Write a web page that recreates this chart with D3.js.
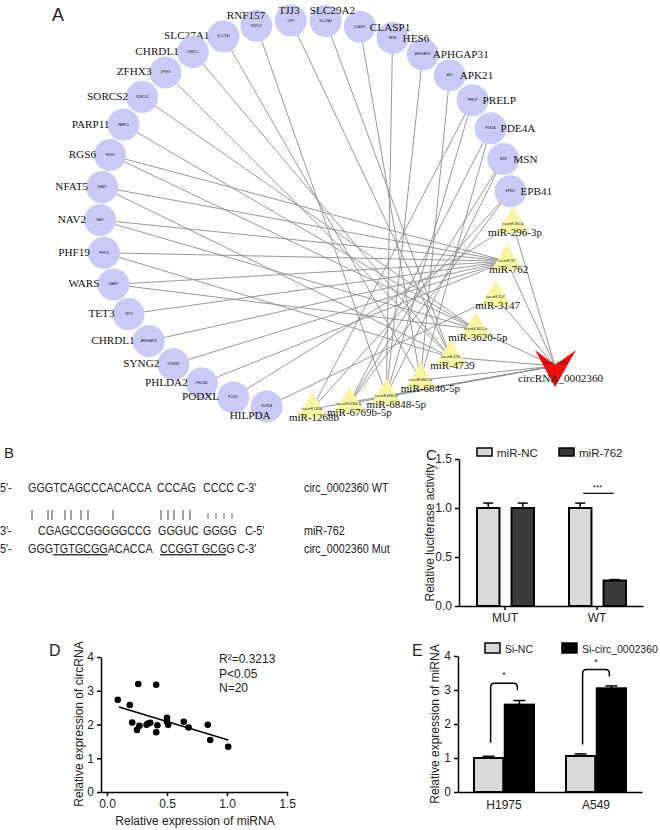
<!DOCTYPE html>
<html>
<head>
<meta charset="utf-8">
<script src="https://cdn.jsdelivr.net/npm/d3@7"></script>
<style>
  body { margin: 0; background: #fff; }
  text { font-family: "Liberation Sans", Arial, sans-serif; fill: #222; }
  .serif { font-family: "Liberation Serif", "Times New Roman", serif; fill: #111; }
  .axis path, .axis line { stroke: #000; stroke-width: 1.5; }
  .axis text { font-size: 12px; fill: #222; font-family: "Liberation Sans", Arial, sans-serif; }
</style>
</head>
<body>
<svg width="660" height="830"></svg>
<script>
// ---------- data ----------
// A: network, genes round the ring (label / tiny id), miRNAs, target links
const genes   = ["EPB41","MSN","PDE4A","PRELP","APK21","APHGAP31","HES6","CLASP1","SLC29A2","TJJ3","RNF157",
                 "SLC27A1","CHRDL1","ZFHX3","SORCS2","PARP11","RGS6","NFAT5","NAV2","PHF19","WARS","TET3",
                 "CHRDL1","SYNG2","PHLDA2","PODXL","HILPDA"];
const geneIds = ["EPB41","MSN","PDE4A","PRELP","AK2","ARHGAP31","HES6","CLASP1","SLC29A2","TJP3","RNF157",
                 "SLC27A1","CHRDL1","ZFHX3","SORCS2","PARP11","RGS6","NFAT5","NAV2","PHF19","WARS","TET3",
                 "ARHGAP40","SYNGR2","PHLDA2","PODXL","HILPDA"];
const mirs    = ["miR-296-3p","miR-762","miR-3147","miR-3620-5p","miR-4739","miR-6846-5p","miR-6848-5p","miR-6769b-5p","miR-1268b"];
const circName = "circRNA_0002360";
const links = [
  ["EPB41","miR-1268b"],["EPB41","miR-6769b-5p"],["MSN","miR-6769b-5p"],["MSN","miR-6848-5p"],
  ["PDE4A","miR-6769b-5p"],["PDE4A","miR-6846-5p"],["PRELP","miR-1268b"],["PRELP","miR-6848-5p"],
  ["AK2","miR-6846-5p"],["ARHGAP31","miR-6848-5p"],["HES6","miR-6848-5p"],["CLASP1","miR-6846-5p"],
  ["SLC29A2","miR-4739"],["TJP3","miR-4739"],["RNF157","miR-6848-5p"],["SLC27A1","miR-6846-5p"],
  ["CHRDL1","miR-4739"],["ZFHX3","miR-4739"],["SORCS2","miR-3620-5p"],["PARP11","miR-3620-5p"],
  ["RGS6","miR-3620-5p"],["RGS6","miR-762"],["NFAT5","miR-762"],["NFAT5","miR-4739"],
  ["NAV2","miR-762"],["NAV2","miR-3620-5p"],["PHF19","miR-762"],["PHF19","miR-4739"],
  ["WARS","miR-762"],["WARS","miR-3620-5p"],["TET3","miR-762"],["ARHGAP40","miR-762"],
  ["SYNGR2","miR-762"],["PHLDA2","miR-762"],["PODXL","miR-296-3p"],["HILPDA","miR-3147"]
];

// B: binding sequences
const seqWT  = ["5'-", "GGGTCAGCCCACACCA", "CCCAG", "CCCC", "C-3'"];
const seqMir = ["3'-", "CGAGCCGGGGGCCG", "GGGUC", "GGGG", "C-5'"];
const seqRowNames = ["circ_0002360 WT", "miR-762", "circ_0002360 Mut"];

// C: luciferase
const lucGroups = ["MUT", "WT"];
const lucSeries = ["miR-NC", "miR-762"];
const lucMean = [[1.0, 1.0], [1.0, 0.26]];
const lucErr  = [[0.05, 0.05], [0.05, 0.01]];

// D: correlation
const corrX = [0.09,0.19,0.26,0.41,0.21,0.25,0.27,0.33,0.36,0.42,0.41,0.50,0.50,0.51,0.64,0.68,0.84,0.86,1.01,0.34];
const corrY = [2.73,2.58,3.20,3.18,2.06,1.84,1.96,1.99,2.05,1.98,1.77,2.20,2.08,1.99,2.08,1.91,1.99,1.54,1.34,2.03];
const fitX = [0.1, 1.01];
const fitY = [2.52, 1.54];
const corrStats = ["R\u00b2=0.3213", "P<0.05", "N=20"];

// E: miRNA expression
const cells = ["H1975", "A549"];
const siSeries = ["Si-NC", "Si-circ_0002360"];
const siMean = [[1.0, 2.57], [1.06, 3.05]];
const siErr  = [[0.05, 0.12], [0.06, 0.07]];

// ---------- drawing ----------
const svg = d3.select("svg");

// ===== A =====
const gA = svg.append("g");
const ring = { cx: 306, cy: 215, rx: 206, ry: 195 };
const angle = d3.scaleLinear().domain([0, genes.length - 1]).range([7, 259]);
const geneNodes = genes.map((g, i) => {
  const a = angle(i) * Math.PI / 180;
  return { id: geneIds[i], label: g, i: i,
           x: ring.cx + ring.rx * Math.cos(a), y: ring.cy - ring.ry * Math.sin(a) };
});
// miRNAs evenly spaced on a guide curve
const guide = gA.append("path").attr("fill", "none")
  .attr("d", d3.line().curve(d3.curveCatmullRom)([[513,224],[498,292],[456,352],[397,392],[312,409]]));
const gl = guide.node().getTotalLength();
const mirNodes = mirs.map((m, i) => {
  const p = guide.node().getPointAtLength(gl * i / (mirs.length - 1));
  return { id: m, i: i, x: p.x, y: p.y };
});
guide.remove();
const circNode = { id: circName, x: 555, y: 366 };

const byId = {};
geneNodes.forEach(n => byId[n.id] = n);
mirNodes.forEach(n => byId[n.id] = n);

const edgeList = links.map(l => [byId[l[0]], byId[l[1]]])
  .concat(mirNodes.map(m => [m, circNode]));

gA.append("g").selectAll("line").data(edgeList).enter().append("line")
  .attr("x1", d => d[0].x).attr("y1", d => d[0].y)
  .attr("x2", d => d[1].x).attr("y2", d => d[1].y)
  .attr("stroke", "#8c8c8c").attr("stroke-width", 0.9);

// gene circles
const gn = gA.append("g").selectAll("g").data(geneNodes).enter().append("g");
gn.append("circle").attr("cx", d => d.x).attr("cy", d => d.y).attr("r", 16)
  .attr("fill", "#cacaf6");
gn.append("text").attr("x", d => d.x).attr("y", d => d.y + 1).attr("text-anchor", "middle")
  .attr("font-size", 3).text(d => d.id);
gn.append("text").attr("class", "serif").attr("font-size", 11.2)
  .attr("text-anchor", d => d.i <= 7 ? "start" : d.i <= 10 ? "middle" : "end")
  .attr("x", d => d.i <= 7 ? d.x + 10 : d.i <= 10 ? d.x + 0.25 * (d.x - ring.cx) + 2 : d.i === 26 ? d.x + 4 : d.x - 14)
  .attr("y", d => d.i <= 7 ? d.y + 4 : d.i <= 10 ? d.y - 7 : d.i === 26 ? d.y + 13 : d.y + 3)
  .text(d => d.label);

// miRNA triangles
const tri = d3.symbol().type(d3.symbolTriangle).size(400);
const mn = gA.append("g").selectAll("g").data(mirNodes).enter().append("g");
mn.append("path").attr("d", tri).attr("transform", d => `translate(${d.x},${d.y})`)
  .attr("fill", "#f8f6a2");
mn.append("text").attr("x", d => d.x).attr("y", d => d.y + 1).attr("text-anchor", "middle")
  .attr("font-size", 3).text(d => "hsa-" + d.id);
mn.append("text").attr("class", "serif").attr("font-size", 11).attr("text-anchor", "middle")
  .attr("x", d => d.x + (d.i >= 5 && d.i <= 7 ? 10 : 2)).attr("y", d => d.y + 12).text(d => d.id);

// circRNA V
gA.append("path")
  .attr("d", d3.line()([[-20,-16],[0,-1],[21,-16],[0,21]].map(p => [circNode.x + p[0], circNode.y + p[1]])) + "Z")
  .attr("fill", "#f20d0d");
gA.append("text").attr("x", circNode.x).attr("y", circNode.y - 2).attr("text-anchor", "middle")
  .attr("font-size", 3).text("hsa_circ_0002360");
gA.append("text").attr("class", "serif").attr("font-size", 11.2)
  .attr("x", circNode.x - 37).attr("y", circNode.y + 16).text(circName);

svg.append("text").attr("x", 52).attr("y", 21).attr("font-size", 18).text("A");

// ===== B =====
svg.append("text").attr("x", 4).attr("y", 458).attr("font-size", 15).text("B");
const sx = 0.83; // the original type is set narrow
const gB = svg.append("g").attr("transform", `scale(${sx},1)`).attr("font-size", 13);
const segX = [0, 28, 157, 203, 237];
const segXm = [0, 38, 158, 203, 245];
gB.append("text").attr("y", 492).selectAll("tspan").data(seqWT).enter().append("tspan")
  .attr("x", (d, i) => segX[i] / sx).text(d => d);
gB.append("text").attr("y", 535).selectAll("tspan").data(seqMir).enter().append("tspan")
  .attr("x", (d, i) => segXm[i] / sx).text(d => d);
const mutLine = gB.append("text").attr("y", 553);
mutLine.append("tspan").attr("x", 0).text("5'-");
mutLine.append("tspan").attr("x", 28 / sx).text("GGG");
mutLine.append("tspan").style("text-decoration", "underline").text("TGTGCGG");
mutLine.append("tspan").text("ACACCA");
mutLine.append("tspan").attr("x", 160 / sx).style("text-decoration", "underline").text("CCGGT GCG");
mutLine.append("tspan").text("G");
mutLine.append("tspan").attr("x", 237 / sx).text("C-3'");
// base-pairing ticks
const pairX = [32, 48, 52, 65, 71, 81, 88, 113, 161, 168, 174, 183, 190];
const wobX = [208, 216, 224, 232];
gB.selectAll("line.p").data(pairX).enter().append("line")
  .attr("x1", d => d / sx).attr("x2", d => d / sx).attr("y1", 510).attr("y2", 520)
  .attr("stroke", "#333").attr("stroke-width", 1);
gB.selectAll("line.w").data(wobX).enter().append("line")
  .attr("x1", d => d / sx).attr("x2", d => d / sx).attr("y1", 513).attr("y2", 519)
  .attr("stroke", "#555").attr("stroke-width", 1);
gB.selectAll("text.rn").data(seqRowNames).enter().append("text")
  .attr("x", 304 / sx).attr("y", (d, i) => [492, 535, 553][i]).text(d => d);

// ===== C =====
const yC = d3.scaleLinear().domain([0, 1.5]).range([606, 459]);
const xC = d3.scaleBand().domain(lucGroups).range([459, 643]);
const xC1 = d3.scaleBand().domain(lucSeries).range([18, 75]).paddingInner(0.35);
const fillC = ["#d9d9d9", "#3a3a3a"];
const gC = svg.append("g");
lucGroups.forEach((g, gi) => {
  lucSeries.forEach((s, si) => {
    const x = xC(g) + xC1(s), w = xC1.bandwidth(), v = lucMean[gi][si], e = lucErr[gi][si];
    const cxm = x + w / 2;
    gC.append("line").attr("x1", cxm).attr("x2", cxm).attr("y1", yC(v)).attr("y2", yC(v + e))
      .attr("stroke", "#000").attr("stroke-width", 1.5);
    gC.append("line").attr("x1", cxm - 5).attr("x2", cxm + 5).attr("y1", yC(v + e)).attr("y2", yC(v + e))
      .attr("stroke", "#000").attr("stroke-width", 1.5);
    gC.append("rect").attr("x", x).attr("y", yC(v)).attr("width", w).attr("height", yC(0) - yC(v))
      .attr("fill", fillC[si]).attr("stroke", "#000").attr("stroke-width", 2);
  });
});
gC.append("g").attr("class", "axis").attr("transform", "translate(459,0)")
  .call(d3.axisLeft(yC).tickValues([0, 0.5, 1, 1.5]).tickFormat(d3.format(".1f")).tickSize(4).tickSizeOuter(0));
gC.append("g").attr("class", "axis").attr("transform", "translate(0,606)")
  .call(d3.axisBottom(xC).tickSize(4).tickSizeOuter(0));
// significance
const wtNC = xC("WT") + xC1("miR-NC") + xC1.bandwidth() / 2;
const wt762 = xC("WT") + xC1("miR-762") + xC1.bandwidth() / 2;
gC.append("line").attr("x1", wtNC + 3).attr("x2", wt762 - 1).attr("y1", yC(1.15)).attr("y2", yC(1.15))
  .attr("stroke", "#000").attr("stroke-width", 1.2);
gC.append("text").attr("x", (wtNC + wt762) / 2).attr("y", yC(1.15) - 3).attr("text-anchor", "middle")
  .attr("font-size", 8).text("***");
gC.append("text").attr("transform", `translate(434,${(yC(0) + yC(1.5)) / 2}) rotate(-90)`)
  .attr("text-anchor", "middle").attr("font-size", 12).text("Relative luciferase activity");
// legend
const legC = gC.selectAll("g.leg").data(lucSeries).enter().append("g")
  .attr("transform", (d, i) => `translate(${[477, 559][i]},448)`);
legC.append("rect").attr("width", 15).attr("height", 8).attr("fill", (d, i) => fillC[i])
  .attr("stroke", "#000").attr("stroke-width", 1.5);
legC.append("text").attr("x", 20).attr("y", 8.5).attr("font-size", 11.5).text(d => d);
svg.append("text").attr("x", 426).attr("y", 460).attr("font-size", 15).text("C");

// ===== D =====
const xD = d3.scaleLinear().domain([-0.05, 1.5]).range([101, 287]);
const yD = d3.scaleLinear().domain([0, 4]).range([792, 657]);
const gD = svg.append("g");
gD.append("g").attr("class", "axis").attr("transform", "translate(101,0)")
  .call(d3.axisLeft(yD).tickValues([0, 1, 2, 3, 4]).tickFormat(d3.format("d")).tickSize(4).tickSizeOuter(0));
gD.append("g").attr("class", "axis").attr("transform", "translate(0,792)")
  .call(d3.axisBottom(xD).tickValues([0, 0.5, 1, 1.5]).tickFormat(d3.format(".1f")).tickSize(4).tickSizeOuter(0));
gD.append("line").attr("x1", xD(fitX[0])).attr("y1", yD(fitY[0])).attr("x2", xD(fitX[1])).attr("y2", yD(fitY[1]))
  .attr("stroke", "#000").attr("stroke-width", 1.5);
gD.selectAll("circle").data(corrX).enter().append("circle")
  .attr("cx", d => xD(d)).attr("cy", (d, i) => yD(corrY[i])).attr("r", 3.3).attr("fill", "#000");
gD.selectAll("text.st").data(corrStats).enter().append("text").attr("font-size", 12)
  .attr("x", 219).attr("y", (d, i) => 663 + i * 14.5).text(d => d);
gD.append("text").attr("x", 195).attr("y", 825).attr("text-anchor", "middle").attr("font-size", 12)
  .text("Relative expression of miRNA");
gD.append("text").attr("transform", `translate(83,724) rotate(-90)`).attr("text-anchor", "middle")
  .attr("font-size", 12).text("Relative expression of circRNA");
svg.append("text").attr("x", 49).attr("y", 656).attr("font-size", 16).text("D");

// ===== E =====
const yE = d3.scaleLinear().domain([0, 4]).range([792, 656]);
const xE = d3.scaleBand().domain(cells).range([458, 642]);
const xE1 = d3.scaleBand().domain(siSeries).range([16, 76]).paddingInner(0.05);
const fillE = ["#d9d9d9", "#000"];
const gE = svg.append("g");
cells.forEach((c, ci) => {
  siSeries.forEach((s, si) => {
    const x = xE(c) + xE1(s), w = xE1.bandwidth(), v = siMean[ci][si], e = siErr[ci][si];
    const cxm = x + w / 2;
    gE.append("line").attr("x1", cxm).attr("x2", cxm).attr("y1", yE(v)).attr("y2", yE(v + e))
      .attr("stroke", "#000").attr("stroke-width", 1.5);
    gE.append("line").attr("x1", cxm - 6).attr("x2", cxm + 6).attr("y1", yE(v + e)).attr("y2", yE(v + e))
      .attr("stroke", "#000").attr("stroke-width", 1.5);
    gE.append("rect").attr("x", x).attr("y", yE(v)).attr("width", w).attr("height", yE(0) - yE(v))
      .attr("fill", fillE[si]).attr("stroke", "#000").attr("stroke-width", 2);
  });
});
gE.append("g").attr("class", "axis").attr("transform", "translate(458,0)")
  .call(d3.axisLeft(yE).tickValues([0, 1, 2, 3, 4]).tickFormat(d3.format("d")).tickSize(4).tickSizeOuter(0));
gE.append("g").attr("class", "axis").attr("transform", "translate(0,792)")
  .call(d3.axisBottom(xE).tickSize(0).tickPadding(8).tickSizeOuter(0));
// brackets
const sigE = [{ cell: "H1975", lo: 1.45, top: 3.2, right: 3.0 }, { cell: "A549", lo: 1.4, top: 3.6, right: 3.4 }];
sigE.forEach(b => {
  const xl = xE(b.cell) + xE1("Si-NC") + xE1.bandwidth() / 2 + 2;
  const xr = xE(b.cell) + xE1("Si-circ_0002360") + xE1.bandwidth() / 2 - 2;
  const yt = yE(b.top), r = 4;
  const p = d3.path();
  p.moveTo(xl, yE(b.lo)); p.lineTo(xl, yt + r); p.quadraticCurveTo(xl, yt, xl + r, yt);
  p.lineTo(xr - r, yt); p.quadraticCurveTo(xr, yt, xr, yt + r); p.lineTo(xr, yE(b.right));
  gE.append("path").attr("d", p.toString()).attr("fill", "none").attr("stroke", "#000").attr("stroke-width", 1.5);
  gE.append("text").attr("x", (xl + xr) / 2).attr("y", yt - 5).attr("text-anchor", "middle")
    .attr("font-size", 9).text("*");
});
gE.append("text").attr("transform", `translate(439,724) rotate(-90)`).attr("text-anchor", "middle")
  .attr("font-size", 12).text("Relative expression of miRNA");
const legE = gE.selectAll("g.leg").data(siSeries).enter().append("g")
  .attr("transform", (d, i) => `translate(${[485, 562][i]},643)`);
legE.append("rect").attr("width", 15).attr("height", 10).attr("fill", (d, i) => fillE[i])
  .attr("stroke", "#000").attr("stroke-width", 1.5);
legE.append("text").attr("x", 20).attr("y", 9.5).attr("font-size", 10.5).text(d => d);
svg.append("text").attr("x", 412).attr("y", 656).attr("font-size", 16).text("E");
</script>
</body>
</html>
